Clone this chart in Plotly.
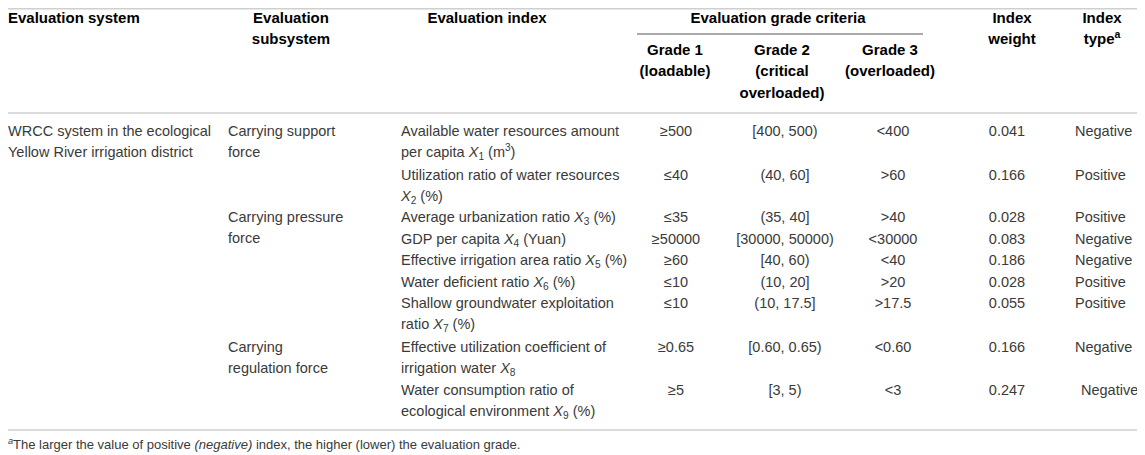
import plotly.graph_objects as go

# ---- table content ----
header_cols = ["Evaluation system", "Evaluation<br>subsystem", "Evaluation index",
               "Evaluation grade criteria", "Index<br>weight", "Index<br>type<sup>a</sup>"]
grade_heads = ["Grade 1<br>(loadable)", "Grade 2<br>(critical<br>overloaded)", "Grade 3<br>(overloaded)"]

system_name = "WRCC system in the ecological<br>Yellow River irrigation district"
subsystems = ["Carrying support<br>force", "Carrying pressure<br>force", "Carrying<br>regulation force"]
subsystem_rows = [0, 2, 7]

indices = [
    "Available water resources amount<br>per capita <i>X</i><sub>1</sub> (m<sup>3</sup>)",
    "Utilization ratio of water resources<br><i>X</i><sub>2</sub> (%)",
    "Average urbanization ratio <i>X</i><sub>3</sub> (%)",
    "GDP per capita <i>X</i><sub>4</sub> (Yuan)",
    "Effective irrigation area ratio <i>X</i><sub>5</sub> (%)",
    "Water deficient ratio <i>X</i><sub>6</sub> (%)",
    "Shallow groundwater exploitation<br>ratio <i>X</i><sub>7</sub> (%)",
    "Effective utilization coefficient of<br>irrigation water <i>X</i><sub>8</sub>",
    "Water consumption ratio of<br>ecological environment <i>X</i><sub>9</sub> (%)",
]
grade1 = ["≥500", "≤40", "≤35", "≥50000", "≥60", "≤10", "≤10", "≥0.65", "≥5"]
grade2 = ["[400, 500)", "(40, 60]", "(35, 40]", "[30000, 50000)", "[40, 60)",
          "(10, 20]", "(10, 17.5]", "[0.60, 0.65)", "[3, 5)"]
grade3 = ["<400", ">60", ">40", "<30000", "<40", ">20", ">17.5", "<0.60", "<3"]
weights = [0.041, 0.166, 0.028, 0.083, 0.186, 0.028, 0.055, 0.166, 0.247]
index_types = ["Negative", "Positive", "Positive", "Negative", "Negative",
               "Positive", "Positive", "Negative", "Negative"]
footnote = ("<sup><i>a</i></sup>The larger the value of positive <i>(negative)</i> index, "
            "the higher (lower) the evaluation grade.")

# ---- layout (pixel grid, page coordinates) ----
W, H = 1145, 455
PAD = 8  # browser body margin; axes ranges start at it so page pixels map 1:1
row_y = [132, 176, 218, 240, 261, 283, 304, 348, 391]
line_step = 21.7
head_y = 19
col_x = dict(system=8, sub=228, index=401, g1=676, g2=785, g3=893, weight=1007, type=1075)
type_x = [col_x["type"]] * 8 + [col_x["type"] + 6]
head_x = [8, 291, 487, 778, 1012, 1102]
grade_head_x = [675, 782, 890]

body_font = dict(family="Liberation Sans", size=14.5, color="#3a3a3a")
head_font = dict(family="Liberation Sans", size=15, color="#000000", weight="bold")

fig = go.Figure()


def esc(s):
    return s.replace("<", "&lt;").replace(">", "&gt;")


def add_text(xs, ys, texts, pos, font):
    px, py, pt = [], [], []
    for x, y, t in zip(xs, ys, texts):
        for k, part in enumerate(t.split("<br>")):
            px.append(x)
            py.append(y + k * line_step)
            pt.append(part)
    fig.add_trace(go.Scatter(x=px, y=py, text=pt, mode="text", textposition=pos,
                             textfont=font, hoverinfo="skip", showlegend=False,
                             cliponaxis=False))


# header
add_text([head_x[0]], [head_y], [header_cols[0]], "middle right", head_font)
add_text(head_x[1:], [head_y] * 5, header_cols[1:], "middle center", head_font)
add_text(grade_head_x, [51] * 3, grade_heads, "middle center", head_font)

# body
add_text([col_x["system"]], [row_y[0]], [system_name], "middle right", body_font)
add_text([col_x["sub"]] * 3, [row_y[r] for r in subsystem_rows], subsystems, "middle right", body_font)
add_text([col_x["index"]] * 9, row_y, indices, "middle right", body_font)
add_text([col_x["g1"]] * 9, row_y, grade1, "middle center", body_font)
add_text([col_x["g2"]] * 9, row_y, grade2, "middle center", body_font)
add_text([col_x["g3"]] * 9, row_y, [esc(s) for s in grade3], "middle center", body_font)
add_text([col_x["weight"]] * 9, row_y, [f"{w:.3f}" for w in weights], "middle center", body_font)
add_text(type_x, row_y, index_types, "middle right", body_font)

# footnote
add_text([8], [446], [footnote], "middle right", dict(body_font, size=13))

# rules
for y in [PAD + 0.8, 113, 430]:
    fig.add_shape(type="line", x0=PAD, x1=W, y0=y, y1=y, line=dict(color="#cfcfcf", width=1.6))
fig.add_shape(type="line", x0=637, x1=923, y0=34, y1=34, line=dict(color="#555555", width=1))

fig.update_xaxes(range=[PAD, W], visible=False, fixedrange=True)
fig.update_yaxes(range=[H, PAD], visible=False, fixedrange=True)
fig.update_layout(width=W - PAD, height=H - PAD, margin=dict(l=0, r=0, t=0, b=0),
                  plot_bgcolor="white", paper_bgcolor="white")

fig.write_html("out.html")
